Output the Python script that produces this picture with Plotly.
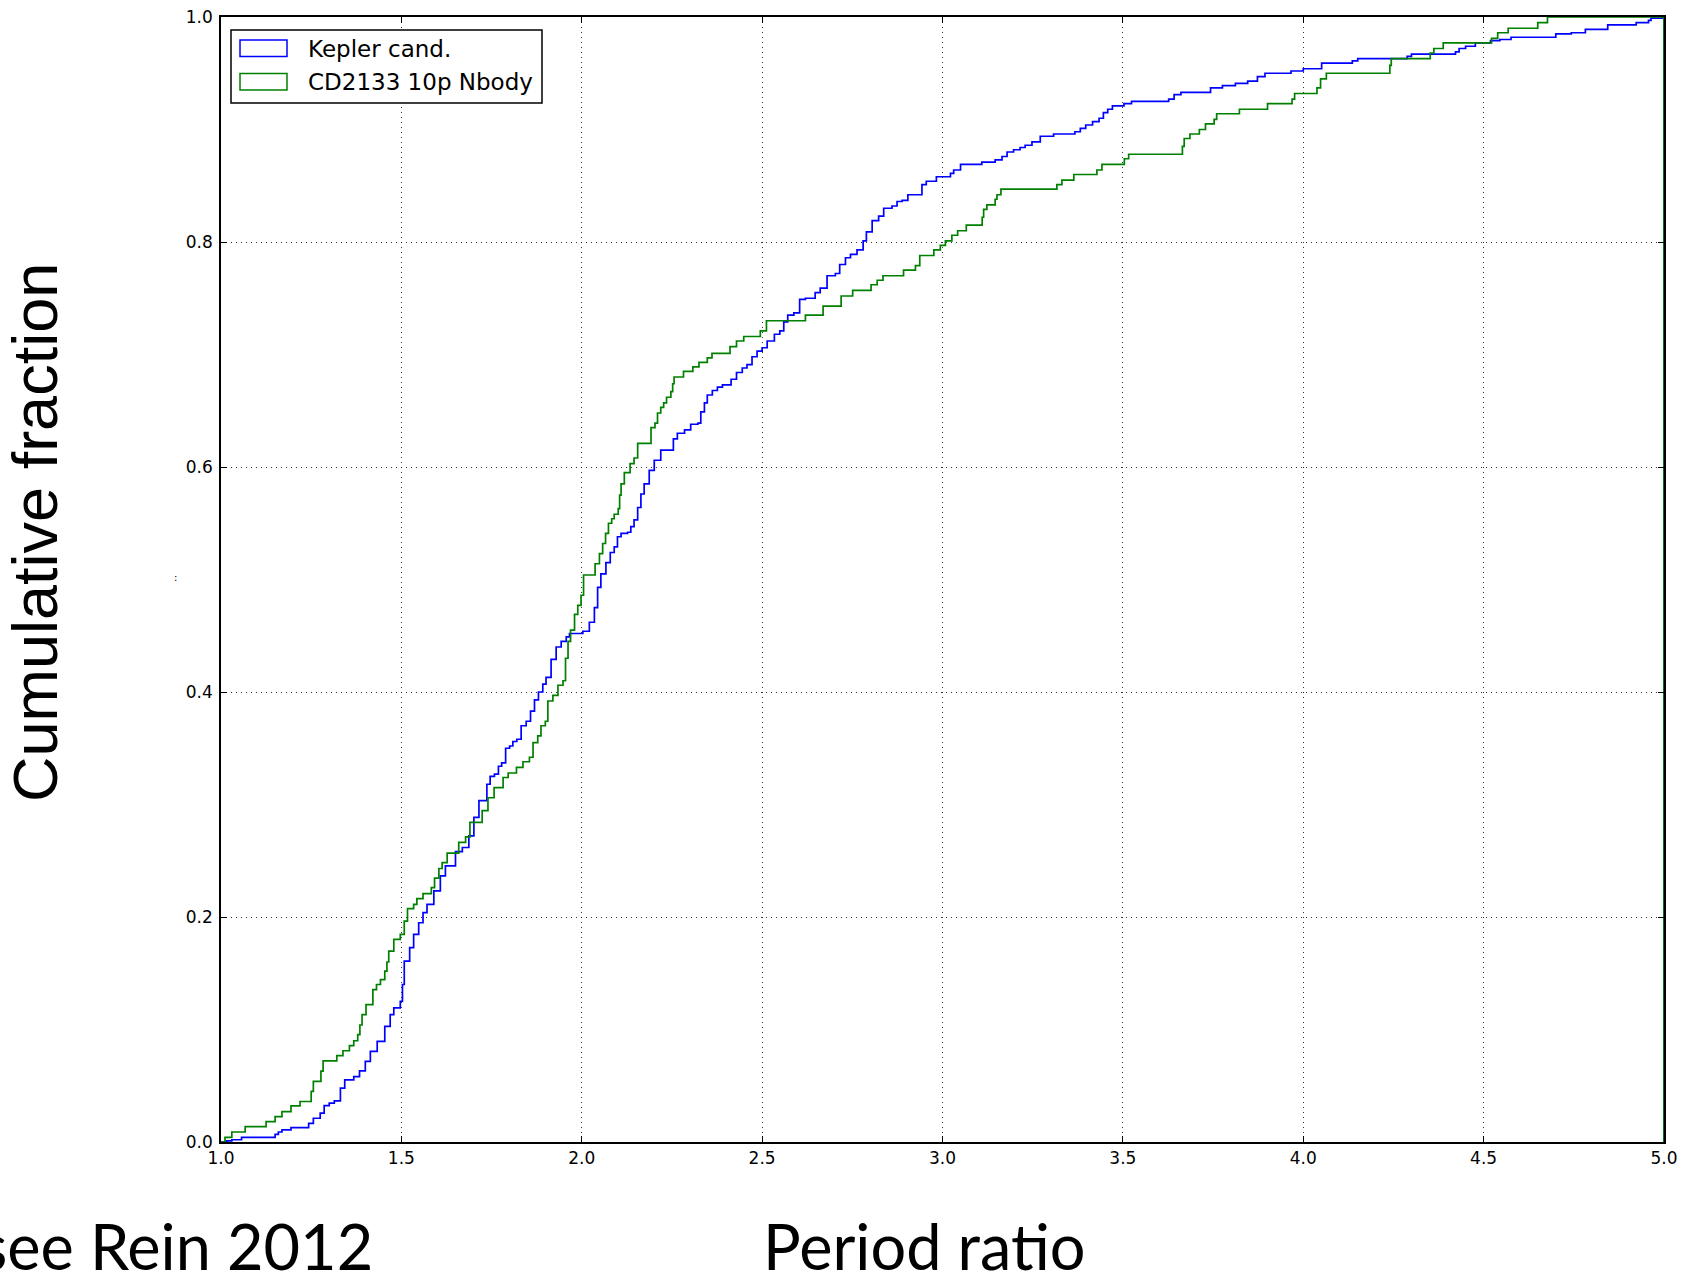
import plotly.graph_objects as go

# Cumulative distributions of adjacent-planet period ratios (step outlines).
# Each pair (ratio, fraction) marks where the cumulative fraction steps up.
kepler_ratio = [
    1.000, 1.016, 1.030, 1.057, 1.150, 1.159, 1.169, 1.194, 1.243, 1.256,
    1.275, 1.286, 1.300, 1.314, 1.331, 1.343, 1.368, 1.384, 1.400, 1.414,
    1.433, 1.454, 1.469, 1.479, 1.497, 1.503, 1.508, 1.523, 1.534, 1.548,
    1.560, 1.571, 1.590, 1.608, 1.622, 1.650, 1.669, 1.687, 1.701, 1.715,
    1.737, 1.746, 1.758, 1.769, 1.778, 1.789, 1.800, 1.809, 1.820, 1.832,
    1.846, 1.858, 1.869, 1.880, 1.892, 1.901, 1.915, 1.929, 1.943, 1.957,
    1.966, 2.003, 2.021, 2.035, 2.044, 2.053, 2.067, 2.079, 2.090, 2.099,
    2.109, 2.127, 2.136, 2.145, 2.155, 2.164, 2.173, 2.187, 2.201, 2.219,
    2.254, 2.265, 2.285, 2.302, 2.322, 2.330, 2.340, 2.348, 2.362, 2.376,
    2.390, 2.414, 2.429, 2.445, 2.458, 2.472, 2.486, 2.500, 2.514, 2.534,
    2.549, 2.560, 2.571, 2.588, 2.604, 2.620, 2.647, 2.661, 2.680, 2.703,
    2.715, 2.731, 2.745, 2.763, 2.780, 2.789, 2.805, 2.823, 2.837, 2.860,
    2.874, 2.888, 2.904, 2.943, 2.955, 2.983, 3.022, 3.031, 3.050, 3.109,
    3.146, 3.165, 3.179, 3.197, 3.215, 3.229, 3.248, 3.271, 3.308, 3.367,
    3.382, 3.397, 3.416, 3.434, 3.446, 3.458, 3.471, 3.503, 3.524, 3.627,
    3.642, 3.661, 3.743, 3.776, 3.812, 3.846, 3.873, 3.894, 3.966, 4.000,
    4.051, 4.136, 4.151, 4.288, 4.300, 4.422, 4.432, 4.450, 4.477, 4.519,
    4.545, 4.576, 4.700, 4.743, 4.782, 4.844, 4.923, 4.957, 4.964, 5.000,
    5.000,
]
kepler_frac = [
    0.0000, 0.0010, 0.0020, 0.0042, 0.0068, 0.0089, 0.0107, 0.0128, 0.0166, 0.0211,
    0.0256, 0.0324, 0.0345, 0.0366, 0.0478, 0.0553, 0.0582, 0.0633, 0.0716, 0.0805,
    0.0895, 0.1028, 0.1132, 0.1192, 0.1251, 0.1400, 0.1608, 0.1727, 0.1845, 0.1949,
    0.2039, 0.2113, 0.2232, 0.2366, 0.2455, 0.2582, 0.2618, 0.2722, 0.2886, 0.3034,
    0.318, 0.325, 0.327, 0.334, 0.337, 0.350, 0.352, 0.356, 0.358, 0.370,
    0.374, 0.383, 0.393, 0.400, 0.407, 0.413, 0.429, 0.440, 0.445, 0.449,
    0.452, 0.454, 0.462, 0.475, 0.493, 0.505, 0.515, 0.524, 0.529, 0.538,
    0.541, 0.542, 0.547, 0.553, 0.564, 0.576, 0.585, 0.597, 0.606, 0.615,
    0.625, 0.630, 0.633, 0.638, 0.639, 0.649, 0.657, 0.664, 0.668, 0.671,
    0.673, 0.678, 0.684, 0.688, 0.691, 0.698, 0.703, 0.706, 0.712, 0.718,
    0.721, 0.729, 0.735, 0.737, 0.749, 0.750, 0.755, 0.759, 0.770, 0.772,
    0.780, 0.786, 0.789, 0.793, 0.801, 0.809, 0.819, 0.823, 0.830, 0.832,
    0.836, 0.837, 0.842, 0.851, 0.854, 0.858, 0.861, 0.864, 0.869, 0.871,
    0.873, 0.876, 0.880, 0.882, 0.884, 0.886, 0.889, 0.894, 0.896, 0.898,
    0.901, 0.904, 0.907, 0.910, 0.915, 0.918, 0.921, 0.923, 0.925, 0.927,
    0.931, 0.933, 0.937, 0.939, 0.941, 0.943, 0.947, 0.950, 0.952, 0.954,
    0.959, 0.961, 0.963, 0.965, 0.967, 0.969, 0.972, 0.974, 0.977, 0.979,
    0.980, 0.982, 0.985, 0.986, 0.989, 0.993, 0.995, 0.997, 0.999, 1.000,
    0.000,
]

nbody_ratio = [
    1.000, 1.011, 1.030, 1.067, 1.125, 1.150, 1.169, 1.194, 1.219, 1.250,
    1.256, 1.277, 1.283, 1.321, 1.338, 1.356, 1.368, 1.379, 1.385, 1.391,
    1.402, 1.421, 1.431, 1.442, 1.454, 1.460, 1.465, 1.479, 1.497, 1.508,
    1.517, 1.534, 1.543, 1.560, 1.583, 1.592, 1.604, 1.613, 1.627, 1.659,
    1.678, 1.690, 1.724, 1.740, 1.757, 1.782, 1.796, 1.819, 1.837, 1.855,
    1.865, 1.878, 1.887, 1.899, 1.906, 1.920, 1.934, 1.948, 1.955, 1.962,
    1.969, 1.980, 1.989, 1.998, 2.005, 2.037, 2.049, 2.058, 2.066, 2.074,
    2.083, 2.090, 2.101, 2.105, 2.109, 2.118, 2.134, 2.145, 2.155, 2.192,
    2.203, 2.210, 2.219, 2.227, 2.235, 2.247, 2.252, 2.256, 2.282, 2.308,
    2.325, 2.348, 2.361, 2.411, 2.429, 2.449, 2.495, 2.512, 2.620, 2.669,
    2.719, 2.751, 2.802, 2.819, 2.835, 2.892, 2.925, 2.937, 2.976, 2.994,
    3.008, 3.026, 3.042, 3.066, 3.110, 3.114, 3.123, 3.146, 3.151, 3.162,
    3.317, 3.331, 3.364, 3.428, 3.442, 3.504, 3.516, 3.665, 3.670, 3.686,
    3.712, 3.729, 3.753, 3.760, 3.823, 3.901, 3.969, 3.976, 4.038, 4.048,
    4.064, 4.240, 4.244, 4.352, 4.362, 4.388, 4.522, 4.539, 4.568, 4.650,
    4.677, 5.000, 5.000,
]
nbody_frac = [
    0.0000, 0.0042, 0.0089, 0.0137, 0.0181, 0.0226, 0.0270, 0.0321, 0.0360, 0.0450,
    0.0538, 0.0630, 0.0722, 0.0767, 0.0811, 0.0856, 0.0900, 0.0954, 0.1040, 0.1132,
    0.1221, 0.1355, 0.1400, 0.1444, 0.1519, 0.1600, 0.1697, 0.1801, 0.1845, 0.1964,
    0.2074, 0.2113, 0.2163, 0.2208, 0.2261, 0.2345, 0.2431, 0.2484, 0.2568, 0.2663,
    0.2713, 0.2841, 0.2945, 0.306, 0.315, 0.324, 0.328, 0.333, 0.338, 0.342,
    0.355, 0.361, 0.370, 0.374, 0.392, 0.397, 0.406, 0.410, 0.430, 0.445,
    0.455, 0.469, 0.477, 0.486, 0.504, 0.514, 0.523, 0.532, 0.541, 0.550,
    0.554, 0.558, 0.563, 0.575, 0.585, 0.595, 0.603, 0.608, 0.621, 0.635,
    0.639, 0.648, 0.653, 0.657, 0.662, 0.667, 0.674, 0.680, 0.685, 0.689,
    0.693, 0.697, 0.701, 0.707, 0.712, 0.716, 0.721, 0.730, 0.735, 0.743,
    0.752, 0.757, 0.762, 0.766, 0.770, 0.775, 0.779, 0.788, 0.793, 0.797,
    0.801, 0.806, 0.810, 0.815, 0.822, 0.829, 0.833, 0.838, 0.842, 0.847,
    0.851, 0.855, 0.860, 0.864, 0.869, 0.874, 0.878, 0.885, 0.892, 0.896,
    0.900, 0.905, 0.909, 0.914, 0.918, 0.923, 0.927, 0.932, 0.937, 0.945,
    0.950, 0.957, 0.963, 0.968, 0.972, 0.977, 0.981, 0.986, 0.990, 0.995,
    1.000, 1.000, 0.000,
]

series_names = ["Kepler cand.", "CD2133 10p Nbody"]
series_colors = ["#0000ff", "#008000"]
x_ticks = [1.0, 1.5, 2.0, 2.5, 3.0, 3.5, 4.0, 4.5, 5.0]
y_ticks = [0.0, 0.2, 0.4, 0.6, 0.8, 1.0]

W, H = 1682, 1278
L, R, T, B = 221, 18, 17, 136
PW, PH = W - L - R, H - T - B


def px(xp):
    """Horizontal pixel position -> paper coordinate."""
    return (xp - L) / PW


def py(yp):
    """Vertical pixel position (from top) -> paper coordinate."""
    return (H - B - yp) / PH


fig = go.Figure()
for xs, ys, name, col in [
    (kepler_ratio, kepler_frac, series_names[0], series_colors[0]),
    (nbody_ratio, nbody_frac, series_names[1], series_colors[1]),
]:
    fig.add_trace(go.Scatter(
        x=xs, y=ys, mode="lines", name=name,
        line=dict(color=col, width=1.7, shape="hv"),
        showlegend=False, cliponaxis=False,
    ))

axis_common = dict(
    automargin=False,
    showline=True, linecolor="black", linewidth=1.5, mirror="allticks",
    ticks="inside", ticklen=6, tickwidth=1, tickcolor="black",
    showgrid=True, gridcolor="rgba(0,0,0,0.8)", gridwidth=1,
    griddash="1px,4px", zeroline=False,
    tickfont=dict(family="DejaVu Sans", size=17, color="black"),
    tickformat=".1f",
)
fig.update_xaxes(range=[1.0, 5.0], tickvals=x_ticks, ticklabelstandoff=0, **axis_common)
fig.update_yaxes(range=[0.0, 1.0], tickvals=y_ticks, ticklabelstandoff=3, **axis_common)

# Legend box with outlined patches
shapes = [
    dict(type="rect", xref="paper", yref="paper",
         x0=px(231), x1=px(542), y0=py(103), y1=py(30),
         line=dict(color="black", width=1.5), fillcolor="white", layer="above"),
]
annotations = []
for i, (name, col) in enumerate(zip(series_names, series_colors)):
    top = 40 + i * 33.5
    shapes.append(dict(type="rect", xref="paper", yref="paper",
                       x0=px(240), x1=px(287), y0=py(top + 16.5), y1=py(top),
                       line=dict(color=col, width=1.5), fillcolor="rgba(0,0,0,0)",
                       layer="above"))
    annotations.append(dict(text=name, xref="paper", yref="paper",
                            x=px(306), y=py(top + 8.5), xanchor="left", yanchor="middle",
                            showarrow=False,
                            font=dict(family="DejaVu Sans", size=23, color="black")))

annotations += [
    dict(text="Cumulative fraction", xref="paper", yref="paper",
         x=px(35), y=py(533), xanchor="center", yanchor="middle", textangle=-90,
         showarrow=False, font=dict(family="Liberation Sans", size=63, color="black")),
    dict(text=":", xref="paper", yref="paper", x=px(175), y=py(577),
         xanchor="center", yanchor="middle", showarrow=False,
         font=dict(family="DejaVu Sans", size=10, color="black")),
    dict(text="Period ratio", xref="paper", yref="paper",
         x=px(924), y=py(1246), xanchor="center", yanchor="middle",
         showarrow=False, font=dict(family="Lato", size=63, color="black")),
    dict(text="see Rein 2012", xref="paper", yref="paper",
         x=px(375), y=py(1246), xanchor="right", yanchor="middle",
         showarrow=False, font=dict(family="Lato", size=63, color="black")),
]

fig.update_layout(
    width=W, height=H,
    margin=dict(l=L, r=R, t=T, b=B, pad=0),
    paper_bgcolor="white", plot_bgcolor="white",
    shapes=shapes, annotations=annotations,
    showlegend=False,
)

fig.write_html("out.html")
